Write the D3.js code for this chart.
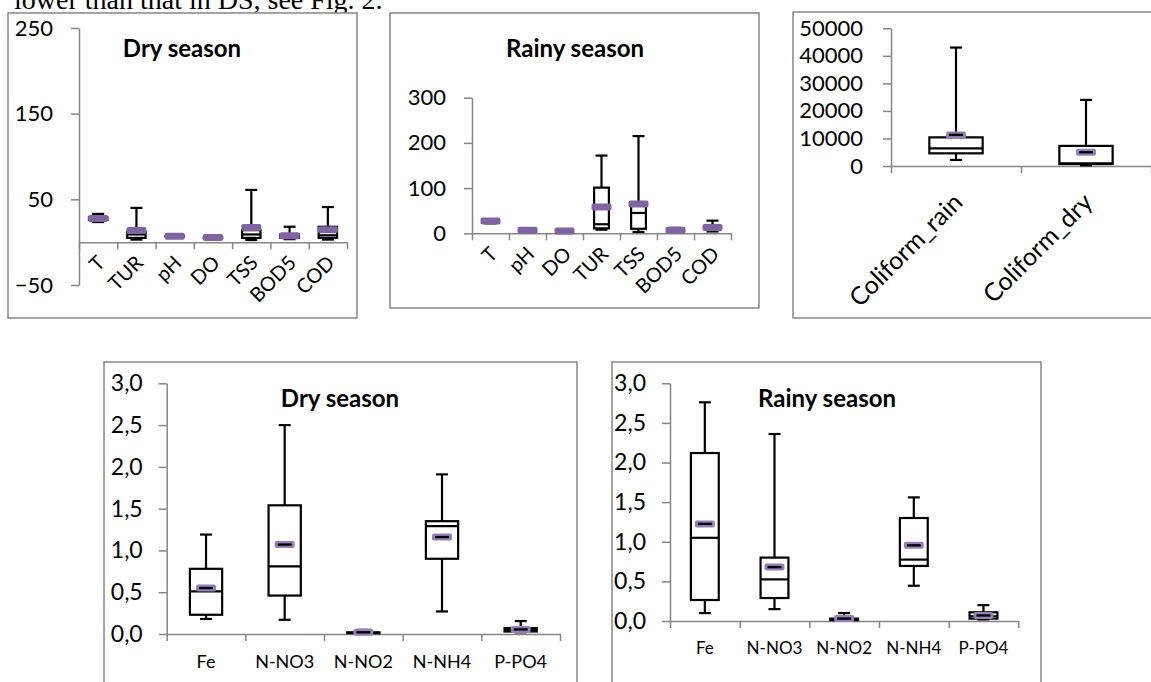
<!DOCTYPE html>
<html>
<head>
<meta charset="utf-8">
<script src="https://cdn.jsdelivr.net/npm/d3@7"></script>
<style>
  html, body { margin: 0; padding: 0; background: #fff; }
  svg { display: block; }
</style>
</head>
<body>
<svg id="chart" width="1151" height="682"></svg>
<script>
// ---------------- DATA ----------------
// Top-left: physical parameters, dry season
const dryCats = ["T", "TUR", "pH", "DO", "TSS", "BOD5", "COD"];
const dryMin  = [23.5, 3,   6.5, 4.5, 2.5, 3.5, 3];
const dryQ1   = [26,   5,   6.8, 5,   5,   5,   5];
const dryMed  = [27.5, 9,   7,   5.5, 9,   7,   8];
const dryQ3   = [29,   12,  7.2, 6,   14,  9,   18];
const dryMax  = [33,   40,  7.5, 6.5, 61,  18,  41];
const dryMean = [27.5, 13.5, 7,  5.5, 17,  7.5, 14.5];
const dryTicks = [-50, 50, 150, 250];

// Top-middle: physical parameters, rainy season
const rainCats = ["T", "pH", "DO", "TUR", "TSS", "BOD5", "COD"];
const rainMin  = [22, 5.5, 4,   8,   3,   3,  4];
const rainQ1   = [25, 6,   4.5, 11,  10,  5,  8];
const rainMed  = [27, 6.5, 5,   20,  45,  6,  11];
const rainQ3   = [29, 7,   5.5, 101, 64,  8,  16];
const rainMax  = [30, 7.5, 6,   172, 215, 12, 28];
const rainMean = [27, 6.5, 5,   58,  65,  7,  13];
const rainTicks = [0, 100, 200, 300];

// Top-right: coliform
const colCats = ["Coliform_rain", "Coliform_dry"];
const colMin  = [2200, 250];
const colQ1   = [4600, 700];
const colMed  = [6400, 950];
const colQ3   = [10400, 7300];
const colMax  = [43000, 24000];
const colMean = [11300, 5000];
const colTicks = [0, 10000, 20000, 30000, 40000, 50000];

// Bottom: nutrients
const nutCats = ["Fe", "N-NO3", "N-NO2", "N-NH4", "P-PO4"];
const nutDryMin  = [0.18, 0.17, 0.005, 0.27, 0.02];
const nutDryQ1   = [0.23, 0.46, 0.01,  0.90, 0.03];
const nutDryMed  = [0.51, 0.81, 0.015, 1.29, 0.05];
const nutDryQ3   = [0.78, 1.54, 0.02,  1.35, 0.07];
const nutDryMax  = [1.19, 2.50, 0.05,  1.91, 0.155];
const nutDryMean = [0.55, 1.07, 0.02,  1.16, 0.055];

const nutRainMin  = [0.10,  0.15,  0.005, 0.445, 0.02];
const nutRainQ1   = [0.265, 0.29,  0.01,  0.695, 0.03];
const nutRainMed  = [1.05,  0.525, 0.02,  0.775, 0.06];
const nutRainQ3   = [2.12,  0.80,  0.03,  1.30,  0.11];
const nutRainMax  = [2.76,  2.36,  0.10,  1.56,  0.20];
const nutRainMean = [1.225, 0.68,  0.03,  0.955, 0.07];
const nutTicks = [0, 0.5, 1.0, 1.5, 2.0, 2.5, 3.0];

const titles = ["Dry season", "Rainy season"];
const captionText = "lower than that in DS, see Fig. 2.";

// ---------------- DRAWING ----------------
const svg = d3.select("#chart");
const FONT = "Lato, 'Open Sans', sans-serif";
const AXIS_COLOR = "#868686";
const PURPLE = "#8064A2";

svg.append("text")
  .attr("x", 14).attr("y", 9)
  .attr("font-family", "'Liberation Serif', 'Times New Roman', serif")
  .attr("font-size", 28)
  .text(captionText);

function rows(cats, mn, q1, md, q3, mx, me) {
  return cats.map((c, i) => ({ cat: c, min: mn[i], q1: q1[i], med: md[i], q3: q3[i], max: mx[i], mean: me[i] }));
}

function panel(cfg) {
  const g = svg.append("g");
  g.append("rect")
    .attr("x", cfg.frame[0]).attr("y", cfg.frame[1])
    .attr("width", cfg.frame[2] - cfg.frame[0]).attr("height", cfg.frame[3] - cfg.frame[1])
    .attr("fill", "#fff").attr("stroke", AXIS_COLOR).attr("stroke-width", 1.5);

  const y = d3.scaleLinear().domain(cfg.yDomain).range(cfg.yRange);
  const x = d3.scaleBand().domain(cfg.data.map(d => d.cat)).range(cfg.xRange).paddingInner(0).paddingOuter(0);
  const xi = d3.scaleLinear().domain([0, cfg.data.length]).range(cfg.xRange);

  const ya = g.append("g").attr("transform", `translate(${cfg.xRange[0]},0)`)
    .call(d3.axisLeft(y).tickValues(cfg.ticks).tickSize(8).tickSizeOuter(0).tickPadding(cfg.tickPad)
      .tickFormat(cfg.fmt));
  ya.select(".domain").attr("stroke", AXIS_COLOR).attr("stroke-width", 1.5);
  ya.selectAll(".tick line").attr("stroke", AXIS_COLOR).attr("stroke-width", 1.5);
  ya.selectAll(".tick text").attr("font-family", FONT).attr("font-size", cfg.tickFont).attr("fill", "#000");

  const y0 = y(0);
  const xa = g.append("g").attr("transform", `translate(0,${y0})`)
    .call(d3.axisBottom(xi).tickValues(d3.range(cfg.data.length + 1)).tickSize(7).tickSizeOuter(0).tickFormat(""));
  xa.select(".domain").attr("stroke", AXIS_COLOR).attr("stroke-width", 1.5);
  xa.selectAll(".tick line").attr("stroke", AXIS_COLOR).attr("stroke-width", 1.5);

  const bw = x.bandwidth();
  const labs = g.append("g");
  if (cfg.rotate) {
    labs.selectAll("text").data(cfg.data).join("text")
      .attr("transform", d => `translate(${x(d.cat) + bw / 2 + cfg.labDx},${y0 + cfg.labDy}) rotate(-45)`)
      .attr("text-anchor", "end")
      .attr("font-family", FONT).attr("font-size", cfg.labFont)
      .text(d => d.cat);
  } else {
    labs.selectAll("text").data(cfg.data).join("text")
      .attr("x", d => x(d.cat) + bw / 2).attr("y", cfg.labY)
      .attr("text-anchor", "middle")
      .attr("font-family", FONT).attr("font-size", cfg.labFont)
      .text(d => d.cat);
  }

  const boxW = bw * cfg.boxFrac;
  const capW = 12;
  const b = g.append("g").selectAll("g").data(cfg.data).join("g")
    .attr("transform", d => `translate(${x(d.cat) + bw / 2},0)`);
  function styl(sel) { return sel.attr("stroke", "#000").attr("stroke-width", 2.2).attr("fill", "none"); }
  styl(b.append("line").attr("x1", 0).attr("x2", 0).attr("y1", d => y(d.max)).attr("y2", d => y(d.q3)));
  styl(b.append("line").attr("x1", 0).attr("x2", 0).attr("y1", d => y(d.q1)).attr("y2", d => y(d.min)));
  styl(b.append("line").attr("x1", -capW / 2).attr("x2", capW / 2).attr("y1", d => y(d.max)).attr("y2", d => y(d.max)));
  styl(b.append("line").attr("x1", -capW / 2).attr("x2", capW / 2).attr("y1", d => y(d.min)).attr("y2", d => y(d.min)));
  styl(b.append("rect").attr("x", -boxW / 2).attr("width", boxW)
    .attr("y", d => y(d.q3)).attr("height", d => Math.max(0.5, y(d.q1) - y(d.q3))))
    .attr("fill", "#fff");
  styl(b.append("line").attr("x1", -boxW / 2).attr("x2", boxW / 2).attr("y1", d => y(d.med)).attr("y2", d => y(d.med)));
  b.append("rect").attr("x", -cfg.meanW / 2).attr("width", cfg.meanW)
    .attr("y", d => y(d.mean) - cfg.meanH / 2).attr("height", cfg.meanH)
    .attr("rx", 2).attr("fill", cfg.meanLine ? "#9580b8" : PURPLE);
  if (cfg.meanLine) {
    b.append("line").attr("x1", -cfg.meanW / 2 + 3).attr("x2", cfg.meanW / 2 - 3)
      .attr("y1", d => y(d.mean)).attr("y2", d => y(d.mean))
      .attr("stroke", "#000").attr("stroke-width", 2.4);
  }

  if (cfg.title) {
    g.append("text").attr("x", cfg.titlePos[0]).attr("y", cfg.titlePos[1])
      .attr("text-anchor", "middle").attr("font-family", FONT).attr("font-weight", "bold")
      .attr("font-size", 24).text(cfg.title);
  }
}

const fmtInt = d3.format("d");
const fmtComma = d => d3.format(".1f")(d).replace(".", ",");

panel({
  frame: [8, 13, 357, 318], xRange: [79, 347], yDomain: [-50, 250], yRange: [285, 28],
  ticks: dryTicks, fmt: fmtInt, tickPad: 18, tickFont: 22,
  data: rows(dryCats, dryMin, dryQ1, dryMed, dryQ3, dryMax, dryMean),
  rotate: true, labDx: 8, labDy: 22, labFont: 20,
  boxFrac: 0.48, meanW: 20, meanH: 7, meanLine: false,
  title: titles[0], titlePos: [182, 57]
});

panel({
  frame: [390, 13, 759, 308], xRange: [472, 731], yDomain: [0, 300], yRange: [233.3, 97.7],
  ticks: rainTicks, fmt: fmtInt, tickPad: 18, tickFont: 22,
  data: rows(rainCats, rainMin, rainQ1, rainMed, rainQ3, rainMax, rainMean),
  rotate: true, labDx: 8, labDy: 22, labFont: 20,
  boxFrac: 0.4, meanW: 20, meanH: 7, meanLine: false,
  title: titles[1], titlePos: [575, 57]
});

panel({
  frame: [793, 12, 1165, 318], xRange: [891, 1151], yDomain: [0, 50000], yRange: [166, 28.3],
  ticks: colTicks, fmt: fmtInt, tickPad: 20, tickFont: 22,
  data: rows(colCats, colMin, colQ1, colMed, colQ3, colMax, colMean),
  rotate: true, labDx: 8, labDy: 38, labFont: 25,
  boxFrac: 0.41, meanW: 20, meanH: 7, meanLine: true,
  title: null
});

panel({
  frame: [104, 362, 577, 700], xRange: [166.7, 560], yDomain: [0, 3], yRange: [634, 383.3],
  ticks: nutTicks, fmt: fmtComma, tickPad: 16, tickFont: 23,
  data: rows(nutCats, nutDryMin, nutDryQ1, nutDryMed, nutDryQ3, nutDryMax, nutDryMean),
  rotate: false, labY: 668, labFont: 18,
  boxFrac: 0.41, meanW: 20, meanH: 7, meanLine: true,
  title: titles[0], titlePos: [340, 407]
});

panel({
  frame: [612, 362, 1041, 700], xRange: [670, 1018.3], yDomain: [0, 3], yRange: [621, 383.3],
  ticks: nutTicks, fmt: fmtComma, tickPad: 16, tickFont: 23,
  data: rows(nutCats, nutRainMin, nutRainQ1, nutRainMed, nutRainQ3, nutRainMax, nutRainMean),
  rotate: false, labY: 654, labFont: 17,
  boxFrac: 0.40, meanW: 20, meanH: 7, meanLine: true,
  title: titles[1], titlePos: [827, 407]
});
</script>
</body>
</html>
